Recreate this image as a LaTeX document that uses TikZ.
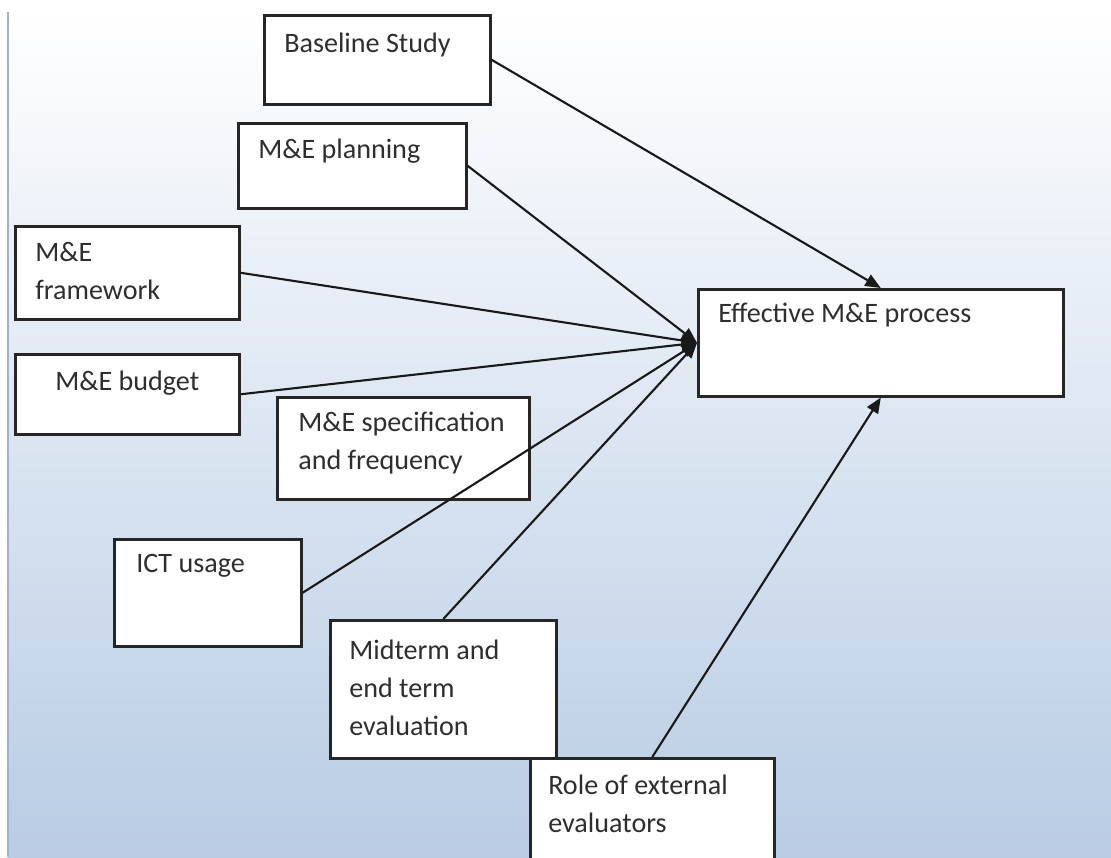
\documentclass[tikz,border=0pt]{standalone}
\usepackage{fontspec}
\setmainfont{Carlito}
\usetikzlibrary{arrows.meta}

\definecolor{bgblue}{RGB}{184,204,228}
\definecolor{edgeblue}{RGB}{160,178,202}

\tikzset{
	mebox/.style={draw=black!85, line width=1.8pt, fill=white, rectangle, inner sep=0pt, anchor=north west},
	metext/.style={anchor=base west, align=left, inner sep=0pt, text=black!82, font=\fontsize{20}{27}\selectfont},
	link/.style={line width=1.5pt, draw=black!90},
	arr/.style={link, -{Triangle[length=11pt,width=9pt]}}
}

\begin{document}
\begin{tikzpicture}[x=0.025cm, y=-0.025cm]
		
		\useasboundingbox (0,0) rectangle (1111,857);
		\shade[top color=white, bottom color=bgblue] (8,12) rectangle (1111,857);
		\draw[edgeblue, line width=1.5pt] (8,12) -- (8,857);
		
		% boxes
		\node[mebox, minimum width=5.65cm, minimum height=2.225cm] (base) at (263,14) {};
		\node[mebox, minimum width=5.7cm, minimum height=2.125cm] (plan) at (237,122) {};
		\node[mebox, minimum width=5.6cm, minimum height=2.325cm] (frame) at (14,225) {};
		\node[mebox, minimum width=5.6cm, minimum height=2cm] (budget) at (14,353) {};
		\node[mebox, minimum width=6.3cm, minimum height=2.55cm] (spec) at (276,396) {};
		\node[mebox, minimum width=4.675cm, minimum height=2.675cm] (ict) at (113,538) {};
		\node[mebox, minimum width=5.65cm, minimum height=3.45cm] (mid) at (329,619) {};
		\node[mebox, minimum width=6.1cm, minimum height=2.75cm] (role) at (529,757) {};
		\node[mebox, minimum width=9.125cm, minimum height=2.675cm] (eff) at (697,288) {};
		
		% texts (base = last line)
		\node[metext] (basetxt) at (284,52) {Baseline Study};
		\node[metext] (plantxt) at (258,158) {M\&E planning};
		\node[metext] (frametxt) at (35,299) {M\&E\\framework};
		\node[metext] (budgettxt) at (55,390) {M\&E budget};
		\node[metext] (spectxt) at (298,469) {M\&E specification\\and frequency};
		\node[metext] (icttxt) at (136,572) {ICT usage};
		\node[metext] (midtxt) at (349,735) {Midterm and\\end term\\evaluation};
		\node[metext] (roletxt) at (548,832) {Role of external\\evaluators};
		\node[metext] (efftxt) at (718,322) {Effective M\&E process};
		
		% links
		\draw[arr] (base.east) -- (eff.north);
		\foreach \src in {plan, frame, budget, ict}
			\draw[arr] (\src.east) -- (eff.west);
		\draw[arr] (mid.north) -- (eff.west);
		\draw[arr] (role.north) -- (eff.south);
		
	\end{tikzpicture}
\end{document}
